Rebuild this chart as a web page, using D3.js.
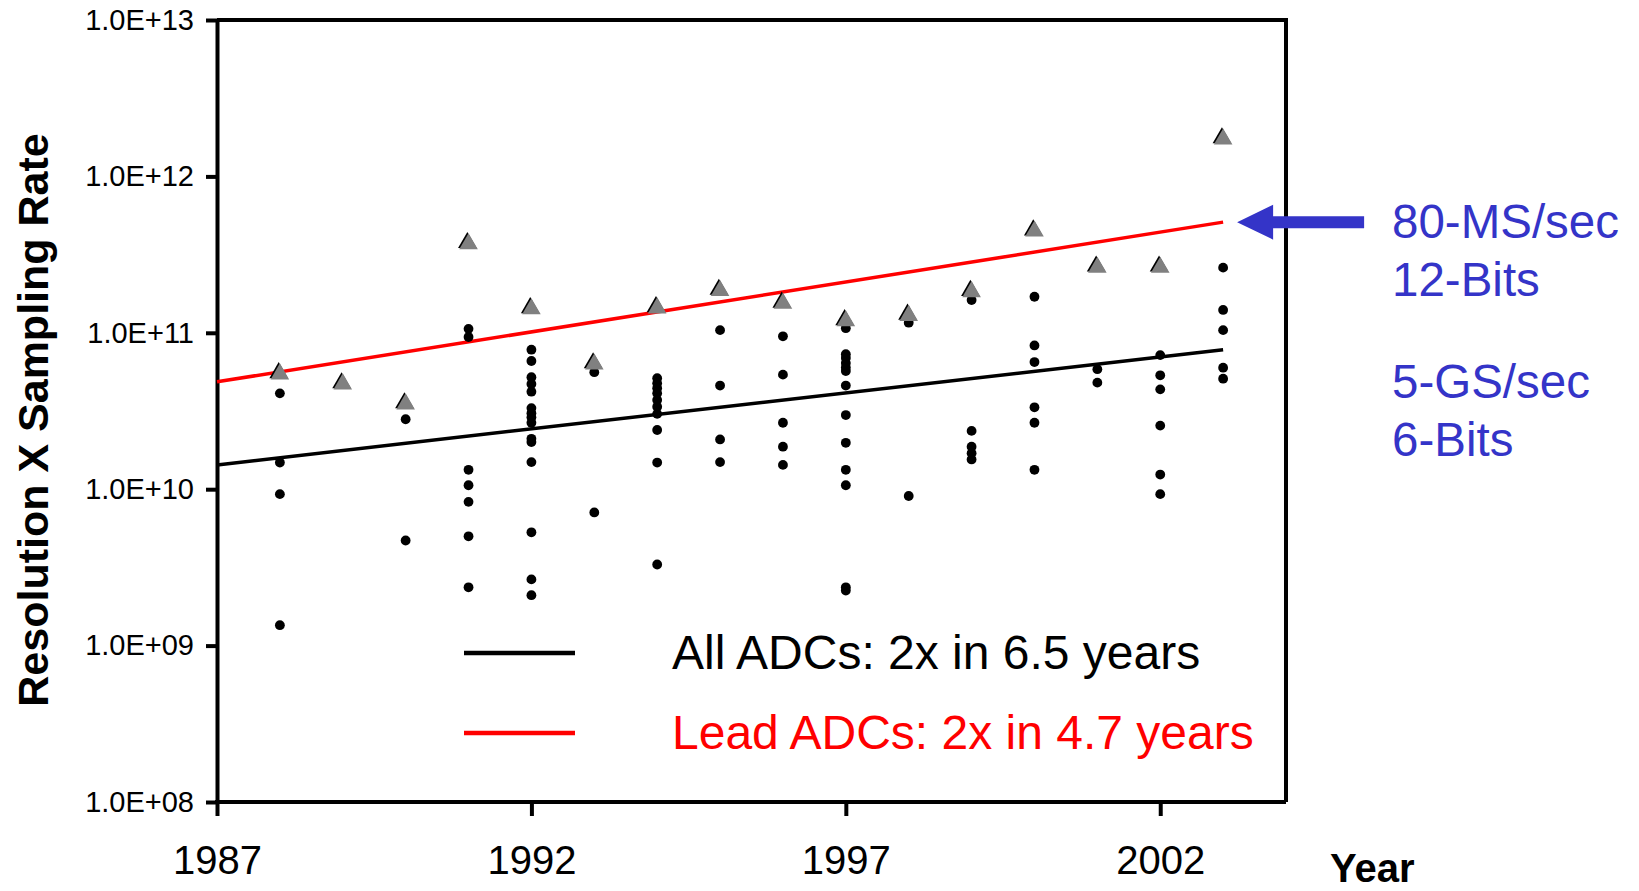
<!DOCTYPE html>
<html>
<head>
<meta charset="utf-8">
<script src="https://cdn.jsdelivr.net/npm/d3@7/dist/d3.min.js"></script>
<style>
  html, body { margin: 0; padding: 0; background: #fff; }
  svg { display: block; font-family: "Liberation Sans", Arial, sans-serif; }
  .axis path, .axis line { stroke: #000; stroke-width: 4; }
  .axis text { fill: #000; }
</style>
</head>
<body>
<div id="chart"></div>
<script>
  // Years on the x axis (one column of points per year)
  var years = [1988, 1989, 1990, 1991, 1992, 1993, 1994, 1995,
               1996, 1997, 1998, 1999, 2000, 2001, 2002, 2003];

  // Lead ADCs (grey triangles), one per year
  var leadValues = [5.45e10, 4.7e10, 3.5e10, 3.7e11, 1.42e11, 6.3e10, 1.44e11, 1.86e11,
                    1.54e11, 1.19e11, 1.29e11, 1.83e11, 4.46e11, 2.62e11, 2.62e11, 1.73e12];

  // All ADCs (black dots), one list per year
  var allValues = [
    [4.1e10, 1.48e10, 9.3e9, 1.35e9],
    [],
    [2.8e10, 4.7e9],
    [1.06e11, 9.4e10, 1.33e10, 1.06e10, 8.3e9, 5.0e9, 2.36e9],
    [7.8e10, 6.6e10, 5.2e10, 4.7e10, 4.2e10, 3.3e10, 3.06e10, 2.88e10, 2.66e10, 2.1e10, 2.0e10, 1.49e10, 5.3e9, 2.65e9, 2.1e9],
    [5.6e10, 7.1e9],
    [5.12e10, 4.75e10, 4.42e10, 4.1e10, 3.72e10, 3.37e10, 3.03e10, 2.39e10, 1.48e10, 3.3e9],
    [1.04e11, 4.6e10, 2.08e10, 1.49e10],
    [9.5e10, 5.4e10, 2.66e10, 1.87e10, 1.43e10],
    [1.07e11, 7.3e10, 6.9e10, 6.4e10, 6.0e10, 5.7e10, 4.6e10, 2.98e10, 1.98e10, 1.33e10, 1.06e10, 2.36e9, 2.25e9],
    [1.16e11, 9.05e9],
    [1.62e11, 2.36e10, 1.87e10, 1.70e10, 1.55e10],
    [1.70e11, 8.3e10, 6.5e10, 3.34e10, 2.66e10, 1.33e10],
    [5.85e10, 4.8e10],
    [7.2e10, 5.35e10, 4.35e10, 2.55e10, 1.24e10, 9.3e9],
    [2.61e11, 1.40e11, 1.04e11, 5.98e10, 5.09e10]
  ];

  // Fitted trend lines (start / end)
  var trendYears = [1987, 2003];
  var allTrend = [1.43e10, 7.8e10];
  var leadTrend = [4.86e10, 5.1e11];

  // Axis ticks
  var xTicks = [1987, 1992, 1997, 2002];
  var yTicks = [1e8, 1e9, 1e10, 1e11, 1e12, 1e13];

  var legendLabels = ["All ADCs: 2x in 6.5 years", "Lead ADCs: 2x in 4.7 years"];
  var noteBlocks = [["80-MS/sec", "12-Bits"], ["5-GS/sec", "6-Bits"]];

  var W = 1639, H = 891;
  var margin = {top: 20, right: 353, bottom: 89, left: 217};
  var width = W - margin.left - margin.right;
  var height = H - margin.top - margin.bottom;
  var blue = "#3434c8";

  var x = d3.scaleLinear().domain([1987, 2004]).range([0, width]);
  var y = d3.scaleLog().domain([1e8, 1e13]).range([height, 0]);

  var svg = d3.select("#chart").append("svg")
      .attr("width", W)
      .attr("height", H);

  var g = svg.append("g")
      .attr("transform", "translate(" + margin.left + "," + margin.top + ")");

  // frame top + right
  g.append("path")
      .attr("d", "M0,0H" + width + "V" + height)
      .attr("fill", "none")
      .attr("stroke", "#000")
      .attr("stroke-width", 4);

  // Y axis
  var yAxis = g.append("g")
      .attr("class", "axis")
      .call(d3.axisLeft(y)
        .tickValues(yTicks)
        .tickSize(11)
        .tickSizeOuter(0)
        .tickPadding(12)
        .tickFormat(function(d) { return "1.0E+" + d3.format("02")(Math.round(Math.log10(d))); }));
  yAxis.selectAll("text").style("font-size", "29px");

  // X axis
  var xAxis = g.append("g")
      .attr("class", "axis")
      .attr("transform", "translate(0," + height + ")")
      .call(d3.axisBottom(x)
        .tickValues(xTicks)
        .tickSize(14)
        .tickSizeOuter(0)
        .tickPadding(30)
        .tickFormat(d3.format("d")));
  xAxis.selectAll("text").style("font-size", "40px");
  xAxis.select(".domain").attr("d", "M-2,0H" + width);

  // Axis titles
  svg.append("text")
      .attr("transform", "translate(33," + (margin.top + 400) + ") rotate(-90)")
      .attr("text-anchor", "middle")
      .attr("dy", "0.36em")
      .style("font-size", "43px")
      .style("font-weight", "bold")
      .text("Resolution X Sampling Rate");

  svg.append("text")
      .attr("x", 1330)
      .attr("y", 882)
      .style("font-size", "40px")
      .style("font-weight", "bold")
      .text("Year");

  // Trend lines
  var line = d3.line()
      .x(function(d) { return x(d[0]); })
      .y(function(d) { return y(d[1]); });

  g.append("path")
      .datum(d3.zip(trendYears, allTrend))
      .attr("d", line)
      .attr("fill", "none")
      .attr("stroke", "#000")
      .attr("stroke-width", 3.5);

  g.append("path")
      .datum(d3.zip(trendYears, leadTrend))
      .attr("d", line)
      .attr("fill", "none")
      .attr("stroke", "#ff0000")
      .attr("stroke-width", 3.5);

  // All ADC dots
  var dots = [];
  years.forEach(function(yr, i) {
    allValues[i].forEach(function(v) { dots.push({year: yr, value: v}); });
  });

  g.selectAll(".dot")
      .data(dots)
      .enter().append("circle")
      .attr("class", "dot")
      .attr("cx", function(d) { return x(d.year); })
      .attr("cy", function(d) { return y(d.value); })
      .attr("r", 4.9)
      .attr("fill", "#000");

  // Lead ADC triangles (thin dark edge behind, like the original)
  var tri = d3.symbol().type(d3.symbolTriangle).size(150);
  var lead = d3.zip(years, leadValues);

  g.selectAll(".lead-shadow")
      .data(lead)
      .enter().append("path")
      .attr("class", "lead-shadow")
      .attr("d", tri)
      .attr("transform", function(d) { return "translate(" + (x(d[0]) - 1.2) + "," + (y(d[1]) - 1.2) + ")"; })
      .attr("fill", "#000");

  g.selectAll(".lead")
      .data(lead)
      .enter().append("path")
      .attr("class", "lead")
      .attr("d", tri)
      .attr("transform", function(d) { return "translate(" + x(d[0]) + "," + y(d[1]) + ")"; })
      .attr("fill", "#808080");

  // Legend
  var legend = g.selectAll(".legend")
      .data(legendLabels)
      .enter().append("g")
      .attr("class", "legend")
      .attr("transform", function(d, i) { return "translate(0," + (633 + i * 80) + ")"; });

  legend.append("line")
      .attr("x1", 247).attr("x2", 358)
      .attr("stroke", function(d, i) { return i ? "#ff0000" : "#000"; })
      .attr("stroke-width", 4.5);

  legend.append("text")
      .attr("x", 455)
      .attr("y", 16)
      .style("font-size", "48px")
      .attr("fill", function(d, i) { return i ? "#ff0000" : "#000"; })
      .text(function(d) { return d; });

  // Arrow pointing at the end of the lead trend line
  var tipX = x(trendYears[1]) + 14;
  var tipY = y(leadTrend[1]);
  g.append("path")
      .attr("d", "M" + tipX + "," + tipY +
                 "L" + (tipX + 36) + "," + (tipY - 17.5) +
                 "V" + (tipY - 6) + "H" + (tipX + 127) +
                 "V" + (tipY + 6) + "H" + (tipX + 36) +
                 "V" + (tipY + 17.5) + "Z")
      .attr("fill", blue);

  // Annotation text
  var notes = svg.append("g").selectAll("g")
      .data(noteBlocks)
      .enter().append("g")
      .attr("transform", function(d, i) { return "translate(1392," + (238 + i * 160) + ")"; });

  notes.selectAll("text")
      .data(function(d) { return d; })
      .enter().append("text")
      .attr("y", function(d, i) { return i * 58; })
      .style("font-size", "47.5px")
      .attr("fill", blue)
      .text(function(d) { return d; });
</script>
</body>
</html>
